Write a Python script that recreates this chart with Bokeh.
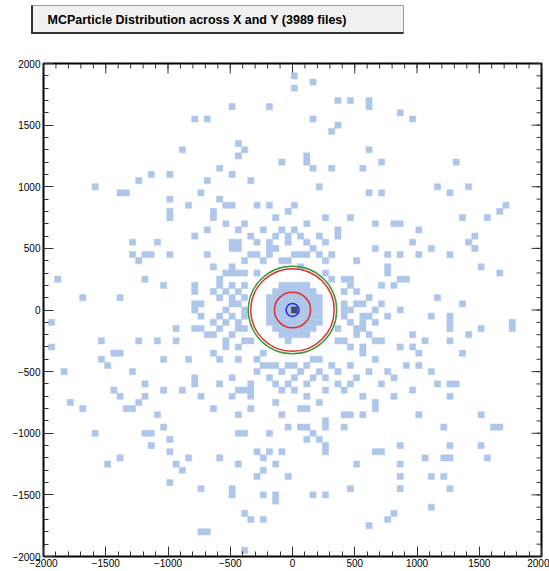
from bokeh.plotting import figure
from bokeh.layouts import column
from bokeh.models import Range1d, FixedTicker
from bokeh.embed import file_html
from bokeh.resources import INLINE
from bokeh.core.properties import value

TITLE = "MCParticle Distribution across X and Y (3989 files)"
BIN = 50
major_ticks = [-2000, -1500, -1000, -500, 0, 500, 1000, 1500, 2000]
minor_ticks = list(range(-2000, 2001, 100))

# sparse cells (bin centres, mm)
cell_x = [
    -785, -685, -885, -1135, -985, -1235, -685, -1585, -1385, -1335, -735, -985, -835, -985, -985,
    -685, -785, -1285, -1085, -1285, -1185, -1135, -985, -685, -1235, -1885, -1185, -1035, -785, -785,
    -1685, -1385, -785, -735, -785, -735, -1935, -935, -785, -735, -685, -1535, -1235, -1085, -935,
    -1935, -1435, -1385, -1535, -1035, -835, -1485, -1835, -1285, -1185, -785, -785, -1435, -1035, -885,
    -735, -1385, -1185, -1785, -1235, -1685, -1335, -1285, -1085, -1035, -1585, -1185, -1135, -985,
    -1135, -985, -1385, -835, -1485, -935, -885, -985, -735, -735, -685,
    15, 165, 15, -485, -185, 365, 465, 615, 615, 165, 365, 315, -435, -385, -435, 615, -85, 115, 115,
    -585, 165, 315, 565, -485, -335, 215, 615, -585, -535, -485, -285, -185, 15, -635, -635, -35, -135,
    265, 465, -535, -385, 115, 665,
    -485, -335, -635, -135, 115, 565, 215, 665, 665, -335, 65, 115, -435, -85, 415, 465, 565, -35, 65,
    115, 265, 265, 415, -435, -385, -185, 165, 115, 215, 265, 265, -285, -185, -85, 665, -585, -235,
    -435, -135, 515, -235, -285, -35, -485, -485, -235, -135, -135, 165, 265, 465, -385, -335, -235,
    615, -385,
    865, 965, 715, 1315, 1165, 715, 1265, 1415, 1715, 1665, 1365, 1565, 815, 865,
    1015, 1465, 965, 1415, 1465, 1115, 765, 865, 1015, 1265, 765, 765, 1515, 1665, 865, 915, 715, 815,
    1165, 715, 1365, 865, 765, 1115, 1265, 1265, 1265, 1765, 1765, 1515, 965, 1415, 715, 1065, 1265,
    865, 965, 1015, 1365, 915, 1015, 765, 815, 1115, 715, 1165, 1265, 1315, 965,
    815, 1265, 1015, 1515, 1215, 1615, 1665, 865, 1265, 1515, 715, 1065, 1215, 1265, 1565, 865, 865,
    1115, 1215, 865, 1265, 1115, 815, 765,
]
cell_y = [
    1550, 1550, 1300, 1100, 1100, 1050, 1050, 1000, 950, 950, 950, 900, 850, 800, 750,
    650, 600, 550, 550, 450, 450, 450, 450, 450, 400, 250, 250, 200, 200, 150,
    100, 100, 50, 50, 0, -50, -100, -150, -150, -150, -200, -250, -250, -250, -250,
    -300, -350, -350, -400, -400, -400, -450, -500, -500, -600, -550, -600, -650, -650, -650,
    -700, -700, -700, -750, -750, -800, -800, -800, -850, -950, -1000, -1000, -1000, -1050,
    -1100, -1150, -1200, -1200, -1250, -1250, -1300, -1400, -1450, -1800, -1800,
    1900, 1850, 1800, 1650, 1650, 1700, 1700, 1700, 1650, 1550, 1500, 1450, 1350, 1300, 1250, 1300, 1200, 1250, 1200,
    1150, 1150, 1150, 1150, 1100, 1050, 1000, 950, 900, 850, 850, 850, 850, 850, 800, 750, 800, 750,
    750, 750, 700, 700, 700, 700,
    -700, -700, -800, -750, -700, -700, -750, -750, -800, -800, -800, -800, -850, -850, -850, -850, -850, -950, -950,
    -950, -900, -950, -950, -1000, -1000, -1000, -1000, -1050, -1050, -1100, -1150, -1150, -1150, -1150, -1150, -1200, -1200,
    -1250, -1250, -1250, -1300, -1350, -1350, -1450, -1500, -1500, -1500, -1550, -1500, -1500, -1450, -1650, -1700, -1700,
    -1750, -1950,
    1600, 1550, 1200, 1200, 1000, 950, 950, 1000, 850, 800, 750, 750, 700, 700,
    650, 600, 550, 550, 500, 500, 450, 450, 450, 450, 350, 300, 350, 300, 250, 250, 200, 200,
    100, 50, 50, 0, -50, -50, -50, -100, -150, -100, -150, -150, -200, -200, -250, -250, -250,
    -300, -300, -350, -350, -450, -450, -500, -550, -500, -600, -600, -600, -600, -650,
    -700, -700, -850, -850, -950, -950, -950, -1100, -1100, -1100, -1150, -1200, -1200, -1200, -1200, -1250, -1350,
    -1350, -1350, -1450, -1450, -1600, -1650, -1700,
]

# cells in the inner region around the detector rings (outside the rings)
inner_x = [
    -85, 365, 365, -335, -35, -485, -435, -485, -435, -285, -185, -185, -185, -135, -35,
    65, 115, 165, 215, 265, 515, 665, -285, -435, 15,
    -635, -485, -535, -485, -435, -385, -585, -485, -635, -485, -485, -385, -385, -635, -535,
    -435, -635, -535, -385, -535, -635, -435,
    465, 415, 415, 415, 465, 515, 565, 565, 565, 365, 515, 365, 465, 615, 565, 665, 665,
    -285, 315, 65,
    -585, -185, -135, -285, -35, 115, 215, 365, 465, 15, -335, -135, 115, 265, 515,
    -435, -85, 15, 415, -385, -335,
    -585, -535, -435, -585, -435, -535, -585, -485, -435, -585, -485, -435, -385, -385,
    465, 515, 615, 565, 665, 615, 465, 515, 665, 565, 415, 415,
    -385, -335, -235, -85, 15, 115, 215, 265, 315, -135, 65, -235,
    -285, -235, -85, 15, 65, 165, 215, 315, -185, 365, -485, -35, 265, 465, 615, -585,
    -385, 415, -335, 265, -235, 165, -35,
]
inner_y = [
    650, 650, 600, 600, 600, 550, 550, 500, 500, 550, 550, 500, 450, 500, 550,
    450, 450, 500, 450, 400, 400, 500, 450, 650, 650,
    350, 350, 300, 300, 300, 300, 250, 200, 150, 100, 50, 0, -50, -100, -100,
    -150, -200, -250, -250, -300, -350, -400,
    250, 150, 50, 0, 0, 50, -50, -100, -150, -150, -200, -250, -300, -200, -350, -400, -100,
    300, 250, 350,
    -400, -450, -450, -500, -450, -450, -400, -500, -450, -550, -600, -600, -600, -550, -550,
    -650, -650, -650, -650, -650, -650,
    200, 150, 150, 100, 50, 0, -50, -50, -100, -150, -200, -300, 200, -150,
    200, 150, 100, 50, 0, -50, -100, -150, -250, -300, -250, 250,
    400, 450, 400, 400, 450, 550, 600, 550, 450, 600, 600, 650,
    -400, -450, -500, -450, -500, -550, -500, -450, -550, -600, -550, -600, -650, -600, -500, -600,
    100, -50, -250, 300, -350, -400, 400,
]

# dense core around the vertex
core_x = [
    -85, -35, 15, 65, 115,
    -135, -85, -35, 15, 65, 115, 165,
    -185, -135, -85, -35, 15, 65, 115, 165, 215,
    -185, -135, -85, -35, 15, 65, 115, 165, 215,
    -185, -135, -85, -35, 65, 115, 165, 215,
    -185, -135, -85, -35, 15, 65, 115, 165, 215,
    -185, -135, -85, -35, 15, 65, 115, 165, 215,
    -135, -85, -35, 15, 65, 115, 165,
    -85, -35, 15, 65, 115,
    -35,
]
core_y = [
    200, 200, 200, 200, 200,
    150, 150, 150, 150, 150, 150, 150,
    100, 100, 100, 100, 100, 100, 100, 100, 100,
    50, 50, 50, 50, 50, 50, 50, 50, 50,
    0, 0, 0, 0, 0, 0, 0, 0,
    -50, -50, -50, -50, -50, -50, -50, -50, -50,
    -100, -100, -100, -100, -100, -100, -100, -100, -100,
    -150, -150, -150, -150, -150, -150, -150,
    -200, -200, -200, -200, -200,
    -250,
]
peak_x = [15]
peak_y = [0]

ring_r = [355, 335, 145, 52]
ring_colors = ["#3a9a3a", "#e0302a", "#e0302a", "#2a2ae8"]

CELL = "#aec6ea"
PEAK = "#3e4b66"
FONT = "Liberation Sans"
TICK = "#333333"

# ---------- title strip ----------
t = figure(width=549, height=50, x_range=Range1d(0, 549), y_range=Range1d(0, 50),
           output_backend="svg", toolbar_location=None, min_border=0,
           x_axis_location=None, y_axis_location=None)
t.frame_align = False
t.grid.visible = False
t.outline_line_color = None
t.quad(left=[31], right=[403], top=[45], bottom=[17], fill_color="#f0f0f0",
       line_color="#9a9a9a", line_width=1)
t.segment(x0=[31.5], y0=[17], x1=[31.5], y1=[45], line_color="#333333", line_width=2)
t.segment(x0=[31], y0=[17.5], x1=[403], y1=[17.5], line_color="#333333", line_width=2)
t.text(x=[47], y=[31], text=[TITLE], text_font=value(FONT), text_font_style="bold",
       text_font_size="12.5px", text_baseline="middle", text_align="left", text_color="black")

# ---------- main histogram ----------
p = figure(width=549, height=521, x_range=Range1d(-2000, 2000), y_range=Range1d(-2000, 2000),
           output_backend="svg", toolbar_location=None,
           min_border_left=43, min_border_right=8, min_border_top=13, min_border_bottom=15)
p.frame_align = False
p.grid.visible = False
p.outline_line_color = "black"
p.outline_line_width = 2

for ax in (p.xaxis[0], p.yaxis[0]):
    ax.ticker = FixedTicker(ticks=major_ticks, minor_ticks=minor_ticks)
    ax.major_tick_in = 10
    ax.major_tick_out = 0
    ax.minor_tick_in = 5
    ax.minor_tick_out = 0
    ax.major_tick_line_color = TICK
    ax.minor_tick_line_color = TICK
    ax.axis_line_color = None
    ax.major_label_text_font = FONT
    ax.major_label_text_font_size = "10px"
    ax.major_label_text_color = "black"
    ax.major_label_standoff = 3
p.xaxis[0].major_label_standoff = 2

# mirrored inward ticks on the top and right frame edges (10 px / 5 px long)
frame_w_px, frame_h_px = 498, 493
ux = 4000 / frame_w_px
uy = 4000 / frame_h_px
top_x = major_ticks + minor_ticks
top_len = [10 * uy] * len(major_ticks) + [5 * uy] * len(minor_ticks)
p.segment(x0=top_x, y0=[2000] * len(top_x), x1=top_x, y1=[2000 - L for L in top_len],
          line_color=TICK, line_width=1)
right_len = [10 * ux] * len(major_ticks) + [5 * ux] * len(minor_ticks)
p.segment(x0=[2000] * len(top_x), y0=top_x, x1=[2000 - L for L in right_len], y1=top_x,
          line_color=TICK, line_width=1)

for xs, ys in ((cell_x, cell_y), (inner_x, inner_y), (core_x, core_y)):
    p.rect(x=xs, y=ys, width=BIN, height=BIN, fill_color=CELL, line_color=CELL, line_width=0.5)
p.rect(x=peak_x, y=peak_y, width=BIN, height=BIN, fill_color=PEAK, line_color=PEAK, line_width=0.5)

for r, c in zip(ring_r, ring_colors):
    p.ellipse(x=[0], y=[0], width=[2 * r], height=[2 * r], fill_color=None, line_color=c, line_width=1.5)

layout = column(t, p, spacing=0)
open("out.html", "w").write(file_html(layout, INLINE))
